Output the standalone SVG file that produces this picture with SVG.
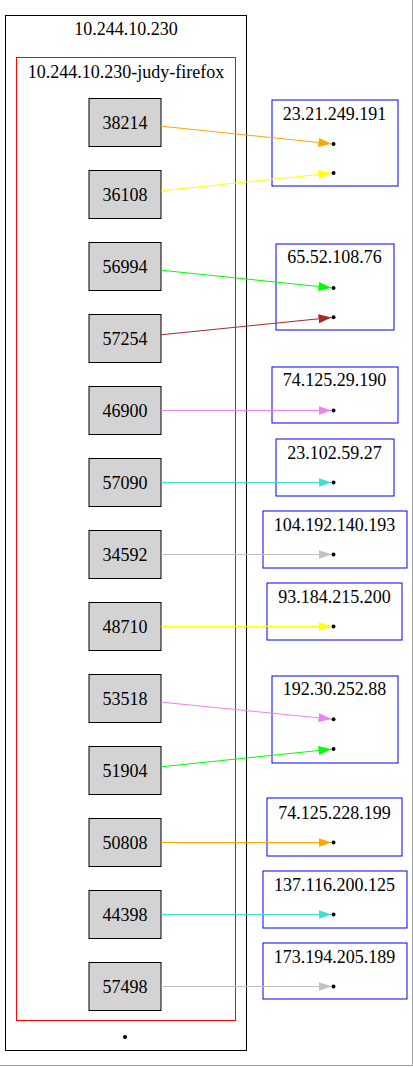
<svg xmlns="http://www.w3.org/2000/svg" width="413" height="1067" viewBox="0 0 413 1067">
<style>
text{font-family:"Liberation Serif","Times New Roman",serif;font-size:18px;text-anchor:middle;fill:#000}
.port rect{fill:#d3d3d3;stroke:#000;stroke-width:1}
.ext{fill:none;stroke:#0000ff;stroke-width:1}
.dot{fill:#000}
#edges path{fill:none;stroke-width:1}
</style>
<defs>
<marker id="a-orange" markerUnits="userSpaceOnUse" markerWidth="13" markerHeight="9" refX="13" refY="4.5" orient="auto"><path d="M0,0 L13,4.5 L0,9 z" fill="#ffa500"/></marker>
<marker id="a-yellow" markerUnits="userSpaceOnUse" markerWidth="13" markerHeight="9" refX="13" refY="4.5" orient="auto"><path d="M0,0 L13,4.5 L0,9 z" fill="#ffff00"/></marker>
<marker id="a-green" markerUnits="userSpaceOnUse" markerWidth="13" markerHeight="9" refX="13" refY="4.5" orient="auto"><path d="M0,0 L13,4.5 L0,9 z" fill="#00ff00"/></marker>
<marker id="a-brown" markerUnits="userSpaceOnUse" markerWidth="13" markerHeight="9" refX="13" refY="4.5" orient="auto"><path d="M0,0 L13,4.5 L0,9 z" fill="#a52a2a"/></marker>
<marker id="a-violet" markerUnits="userSpaceOnUse" markerWidth="13" markerHeight="9" refX="13" refY="4.5" orient="auto"><path d="M0,0 L13,4.5 L0,9 z" fill="#ee82ee"/></marker>
<marker id="a-turq" markerUnits="userSpaceOnUse" markerWidth="13" markerHeight="9" refX="13" refY="4.5" orient="auto"><path d="M0,0 L13,4.5 L0,9 z" fill="#40e0d0"/></marker>
<marker id="a-gray" markerUnits="userSpaceOnUse" markerWidth="13" markerHeight="9" refX="13" refY="4.5" orient="auto"><path d="M0,0 L13,4.5 L0,9 z" fill="#c0c0c0"/></marker>
</defs>
<rect x="0" y="0" width="413" height="1067" fill="#fff"/>
<path d="M412.5,0 V1065.5 H0" fill="none" stroke="#a0a0a0" stroke-width="1"/>

<g id="host">
<rect x="5.5" y="15.5" width="241" height="1035" fill="none" stroke="#000" stroke-width="1"/>
<text x="126" y="35">10.244.10.230</text>
<circle class="dot" cx="125" cy="1037" r="2"/>
</g>
<g id="pod">
<rect x="16.5" y="57.5" width="219" height="963" fill="none" stroke="#ff0000" stroke-width="1"/>
<text x="126" y="78">10.244.10.230-judy-firefox</text>
</g>

<g id="p38214" class="port"><rect x="89" y="98.5" width="72" height="48"/><text x="125" y="128.5">38214</text></g>
<g id="p36108" class="port"><rect x="89" y="170.5" width="72" height="48"/><text x="125" y="200.5">36108</text></g>
<g id="p56994" class="port"><rect x="89" y="242.5" width="72" height="48"/><text x="125" y="272.5">56994</text></g>
<g id="p57254" class="port"><rect x="89" y="314.5" width="72" height="48"/><text x="125" y="344.5">57254</text></g>
<g id="p46900" class="port"><rect x="89" y="386.5" width="72" height="48"/><text x="125" y="416.5">46900</text></g>
<g id="p57090" class="port"><rect x="89" y="458.5" width="72" height="48"/><text x="125" y="488.5">57090</text></g>
<g id="p34592" class="port"><rect x="89" y="530.5" width="72" height="48"/><text x="125" y="560.5">34592</text></g>
<g id="p48710" class="port"><rect x="89" y="602.5" width="72" height="48"/><text x="125" y="632.5">48710</text></g>
<g id="p53518" class="port"><rect x="89" y="674.5" width="72" height="48"/><text x="125" y="704.5">53518</text></g>
<g id="p51904" class="port"><rect x="89" y="746.5" width="72" height="48"/><text x="125" y="776.5">51904</text></g>
<g id="p50808" class="port"><rect x="89" y="818.5" width="72" height="48"/><text x="125" y="848.5">50808</text></g>
<g id="p44398" class="port"><rect x="89" y="890.5" width="72" height="48"/><text x="125" y="920.5">44398</text></g>
<g id="p57498" class="port"><rect x="89" y="962.5" width="72" height="48"/><text x="125" y="992.5">57498</text></g>

<g id="h23-21-249-191"><rect class="ext" x="272" y="100" width="126" height="86"/><text x="334.5" y="120">23.21.249.191</text><circle class="dot" cx="333.5" cy="144" r="2"/><circle class="dot" cx="333.5" cy="173" r="2"/></g>
<g id="h65-52-108-76"><rect class="ext" x="276" y="244" width="118" height="86"/><text x="334.5" y="263">65.52.108.76</text><circle class="dot" cx="333.5" cy="288" r="2"/><circle class="dot" cx="333.5" cy="317.3" r="2"/></g>
<g id="h74-125-29-190"><rect class="ext" x="272" y="367" width="126" height="56"/><text x="334.5" y="386">74.125.29.190</text><circle class="dot" cx="333.5" cy="410.5" r="2"/></g>
<g id="h23-102-59-27"><rect class="ext" x="276" y="439" width="118" height="57"/><text x="334.5" y="459">23.102.59.27</text><circle class="dot" cx="333.5" cy="482.5" r="2"/></g>
<g id="h104-192-140-193"><rect class="ext" x="263" y="511" width="144" height="57"/><text x="334.5" y="531">104.192.140.193</text><circle class="dot" cx="333.5" cy="554.5" r="2"/></g>
<g id="h93-184-215-200"><rect class="ext" x="267" y="583" width="135" height="57"/><text x="334.5" y="603">93.184.215.200</text><circle class="dot" cx="333.5" cy="626.5" r="2"/></g>
<g id="h192-30-252-88"><rect class="ext" x="272" y="676" width="126" height="87"/><text x="334.5" y="695">192.30.252.88</text><circle class="dot" cx="333.5" cy="719.3" r="2"/><circle class="dot" cx="333.5" cy="749" r="2"/></g>
<g id="h74-125-228-199"><rect class="ext" x="267" y="798" width="135" height="58"/><text x="334.5" y="819">74.125.228.199</text><circle class="dot" cx="333.5" cy="842.5" r="2"/></g>
<g id="h137-116-200-125"><rect class="ext" x="263" y="871" width="144" height="57"/><text x="334.5" y="891">137.116.200.125</text><circle class="dot" cx="333.5" cy="914.5" r="2"/></g>
<g id="h173-194-205-189"><rect class="ext" x="263" y="943" width="144" height="56"/><text x="334.5" y="963">173.194.205.189</text><circle class="dot" cx="333.5" cy="986.5" r="2"/></g>

<g id="edges">
<path d="M161,126.2 L331.5,143.8" stroke="#ffa500" marker-end="url(#a-orange)"/>
<path d="M161,190.8 L331.5,173.2" stroke="#ffff00" marker-end="url(#a-yellow)"/>
<path d="M161,270.2 L331.5,287.8" stroke="#00ff00" marker-end="url(#a-green)"/>
<path d="M161,334.8 L331.5,317.5" stroke="#a52a2a" marker-end="url(#a-brown)"/>
<path d="M161,410.5 L331.5,410.5" stroke="#ee82ee" marker-end="url(#a-violet)"/>
<path d="M161,482.5 L331.5,482.5" stroke="#40e0d0" marker-end="url(#a-turq)"/>
<path d="M161,554.5 L331.5,554.5" stroke="#c0c0c0" marker-end="url(#a-gray)"/>
<path d="M161,626.5 L331.5,626.5" stroke="#ffff00" marker-end="url(#a-yellow)"/>
<path d="M161,702.1 L331.5,719.1" stroke="#ee82ee" marker-end="url(#a-violet)"/>
<path d="M161,766.8 L331.5,749.2" stroke="#00ff00" marker-end="url(#a-green)"/>
<path d="M161,842.5 L331.5,842.5" stroke="#ffa500" marker-end="url(#a-orange)"/>
<path d="M161,914.5 L331.5,914.5" stroke="#40e0d0" marker-end="url(#a-turq)"/>
<path d="M161,986.5 L331.5,986.5" stroke="#c0c0c0" marker-end="url(#a-gray)"/>
</g>
</svg>
